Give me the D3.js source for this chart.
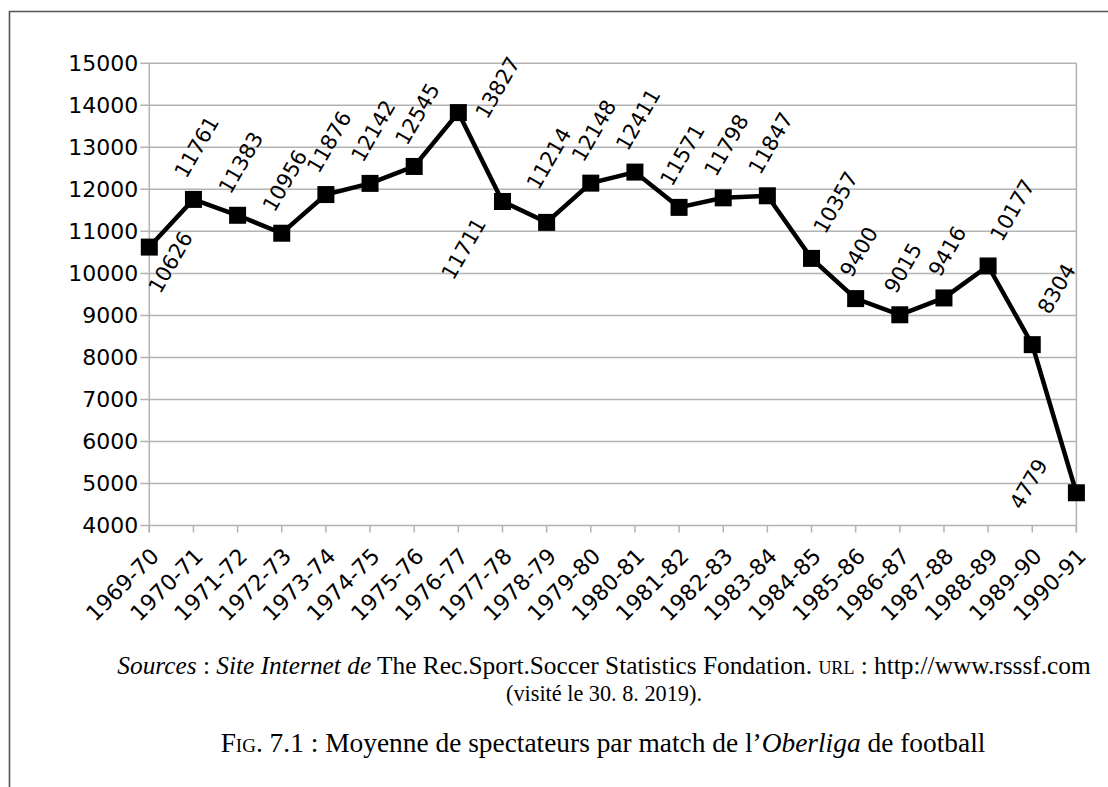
<!DOCTYPE html>
<html lang="fr">
<head>
<meta charset="UTF-8">
<title>Oberliga</title>
<script src="https://d3js.org/d3.v7.min.js"></script>
<style>
  body { margin: 0; background: #fff; }
  svg { display: block; }
  .tick-lab { font-family: "DejaVu Sans", sans-serif; font-size: 22px; fill: #000; }
  .val-lab { font-family: "DejaVu Sans", sans-serif; font-size: 21px; fill: #000; }
  .cap { font-family: "Liberation Serif", "DejaVu Serif", serif; fill: #000; }
</style>
</head>
<body>
<script>
// saisons et moyennes de spectateurs
var seasons = ["1969-70","1970-71","1971-72","1972-73","1973-74","1974-75","1975-76","1976-77",
  "1977-78","1978-79","1979-80","1980-81","1981-82","1982-83","1983-84","1984-85","1985-86",
  "1986-87","1987-88","1988-89","1989-90","1990-91"];
var spectators = [10626,11761,11383,10956,11876,12142,12545,13827,11711,11214,12148,12411,
  11571,11798,11847,10357,9400,9015,9416,10177,8304,4779];
var yTicks = [4000,5000,6000,7000,8000,9000,10000,11000,12000,13000,14000,15000];
// where each value label sits relative to its point
var labelPlace = ["right","above","above","above","above","above","above","upRight",
  "downLeft","high","above","above","above","above","above","aboveR","above",
  "above","above","aboveR","aboveR","left"];

(function(){
var W = 1108, H = 787;
var pLeft = 149.3, pRight = 1076.4, pTop = 63.3, pBottom = 525.5;

var svg = d3.select("body").append("svg").attr("width", W).attr("height", H);

// cadre
svg.append("line").attr("x1", 9).attr("x2", W).attr("y1", 11.5).attr("y2", 11.5)
  .attr("stroke", "#555").attr("stroke-width", 1.6);
svg.append("line").attr("x1", 9.5).attr("x2", 9.5).attr("y1", 11).attr("y2", H)
  .attr("stroke", "#555").attr("stroke-width", 1.6);

var x = d3.scalePoint().domain(seasons).range([pLeft, pRight]);
var y = d3.scaleLinear().domain([4000, 15000]).range([pBottom, pTop]);

// grille horizontale
svg.append("g").selectAll("line").data(yTicks).enter().append("line")
  .attr("x1", pLeft - 9).attr("x2", pRight)
  .attr("y1", function(d){ return y(d); }).attr("y2", function(d){ return y(d); })
  .attr("stroke", "#b3b3b3").attr("stroke-width", 1.5);

// axes verticaux (gauche + droite)
[pLeft, pRight].forEach(function(px){
  svg.append("line").attr("x1", px).attr("x2", px).attr("y1", pTop).attr("y2", pBottom + 7)
    .attr("stroke", "#b3b3b3").attr("stroke-width", 1.5);
});

// graduations x
svg.append("g").selectAll("line").data(seasons).enter().append("line")
  .attr("x1", function(d){ return x(d); }).attr("x2", function(d){ return x(d); })
  .attr("y1", pBottom).attr("y2", pBottom + 7)
  .attr("stroke", "#b3b3b3").attr("stroke-width", 1.5);

// étiquettes y
svg.append("g").selectAll("text").data(yTicks).enter().append("text")
  .attr("class", "tick-lab")
  .attr("x", pLeft - 11).attr("y", function(d){ return y(d); })
  .attr("dy", "0.36em").attr("text-anchor", "end")
  .text(function(d){ return d; });

// étiquettes x
svg.append("g").selectAll("text").data(seasons).enter().append("text")
  .attr("class", "tick-lab")
  .attr("text-anchor", "end")
  .attr("transform", function(d){
    return "translate(" + (x(d) + 11) + "," + (pBottom + 32) + ") rotate(-45)";
  })
  .text(function(d){ return d; });

// courbe
var line = d3.line()
  .x(function(d, i){ return x(seasons[i]); })
  .y(function(d){ return y(d); });

svg.append("path").datum(spectators)
  .attr("d", line)
  .attr("fill", "none").attr("stroke", "#000")
  .attr("stroke-width", 4.5).attr("stroke-linejoin", "miter");

var m = 17;
svg.append("g").selectAll("rect").data(spectators).enter().append("rect")
  .attr("x", function(d, i){ return x(seasons[i]) - m / 2; })
  .attr("y", function(d){ return y(d) - m / 2; })
  .attr("width", m).attr("height", m).attr("fill", "#000");

// valeurs (centre de l'étiquette par rapport au point)
var place = {
  right: [21, 15],
  upRight: [39, -25],
  downLeft: [-39, 47],
  high: [2, -64],
  aboveR: [24, -56],
  left: [-48, -9]
};
var vals = svg.append("g").selectAll("text").data(spectators).enter().append("text")
  .attr("class", "val-lab")
  .attr("text-anchor", "middle")
  .attr("dy", "0.36em")
  .text(function(d){ return d; });

vals.attr("transform", function(d, i){
  var px = x(seasons[i]), py = y(d);
  var w = this.getComputedTextLength();
  var half = (w * 0.866 + 15 * 0.5) / 2;
  var off = place[labelPlace[i]] || [3, -(20 + half)];
  return "translate(" + (px + off[0]) + "," + (py + off[1]) + ") rotate(-60)";
});

// légende sous le graphique
function fitLine(t, cx, baseY, targetW) {
  t.attr("x", cx).attr("y", baseY).attr("text-anchor", "middle");
  var bw = t.node().getBBox().width;
  var fs = parseFloat(t.style("font-size"));
  t.style("font-size", (fs * targetW / bw) + "px");
}

var s1 = svg.append("text").attr("class", "cap").style("font-size", "20px");
s1.append("tspan").style("font-style", "italic").text("Sources");
s1.append("tspan").text(" : ");
s1.append("tspan").style("font-style", "italic").text("Site Internet de");
s1.append("tspan").text(" The Rec.Sport.Soccer Statistics Fondation. ");
s1.append("tspan").style("font-variant", "small-caps").text("url");
s1.append("tspan").text(" : http://www.rsssf.com");
fitLine(s1, 604, 674, 974);

var s2 = svg.append("text").attr("class", "cap").style("font-size", "20px")
  .text("(visité le 30. 8. 2019).");
fitLine(s2, 604, 701, 196);

var s3 = svg.append("text").attr("class", "cap").style("font-size", "24px");
s3.append("tspan").style("font-variant", "small-caps").text("Fig. 7.1");
s3.append("tspan").text(" : Moyenne de spectateurs par match de l’");
s3.append("tspan").style("font-style", "italic").text("Oberliga");
s3.append("tspan").text(" de football");
fitLine(s3, 603, 752, 766);
})();
</script>
</body>
</html>
